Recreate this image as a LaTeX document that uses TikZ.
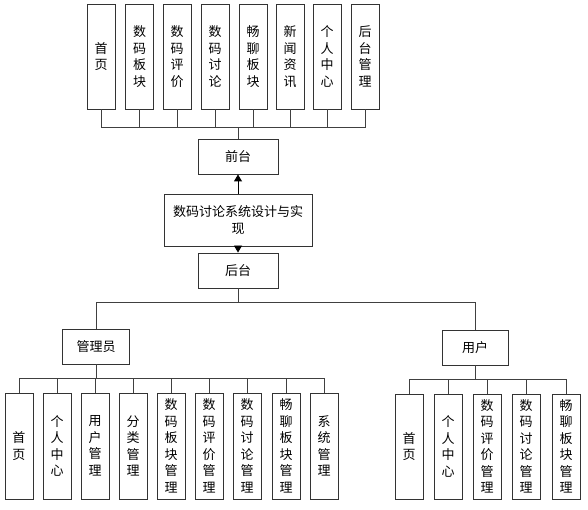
\documentclass[tikz,border=0pt]{standalone}
\usepackage{fontspec}
\setmainfont{Noto Sans CJK SC}
\usetikzlibrary{arrows.meta}
\begin{document}
\begin{tikzpicture}[x=1pt,y=-1pt,
  box/.style={draw=black!80, line width=0.9pt, fill=white, inner sep=0pt, align=center,
    font=\fontsize{13}{16.5}\selectfont},
  vbox/.style={box, minimum width=28pt, minimum height=105pt},
  hbox/.style={box, minimum height=35pt},
  conn/.style={draw=black!75, line width=0.9pt},
  arr/.style={conn, draw=black, -{Triangle[width=8pt,length=7pt]}}]
\useasboundingbox (0,0) rectangle (588,510);
% top row
\node[vbox] (t1) at (101,56.5) {首\\页};
\node[vbox] (t2) at (139.5,56.5) {数\\码\\板\\块};
\node[vbox] (t3) at (177,56.5) {数\\码\\评\\价};
\node[vbox] (t4) at (215,56.5) {数\\码\\讨\\论};
\node[vbox] (t5) at (253,56.5) {畅\\聊\\板\\块};
\node[vbox] (t6) at (290,56.5) {新\\闻\\资\\讯};
\node[vbox] (t7) at (327,56.5) {个\\人\\中\\心};
\node[vbox] (t8) at (365,56.5) {后\\台\\管\\理};
\coordinate (jt) at (237,127);
\node[hbox, minimum width=80pt] (qt) at (238,156.5) {前台};
\node[box, minimum width=148pt, minimum height=52pt] (main) at (238,220) {数码讨论系统设计与实\\现};
\node[hbox, minimum width=80pt] (ht) at (238,270.5) {后台};
\foreach \i in {1,...,8} {\draw[conn] (t\i.south) |- (jt);}
\draw[conn] (jt) -- (qt.north |- jt) -- (qt.north);
\draw[arr] (main.north -| qt.south) -- (qt.south);
\draw[arr] (main.south -| ht.north) -- (ht.north);
% second level
\node[hbox, minimum width=67pt] (gly) at (96,346.5) {管理员};
\node[hbox, minimum width=66pt] (yh) at (475,347.5) {用户};
\coordinate (jm) at (238,302);
\draw[conn] (ht.south) -- (jm);
\draw[conn] (jm) -| (gly.north);
\draw[conn] (jm) -| (yh.north);
% admin children
\node[vbox, minimum height=106pt] (a1) at (19,446) {首\\页};
\node[vbox, minimum height=106pt] (a2) at (57,446) {个\\人\\中\\心};
\node[vbox, minimum height=106pt] (a3) at (95,446) {用\\户\\管\\理};
\node[vbox, minimum height=106pt] (a4) at (133,446) {分\\类\\管\\理};
\node[vbox, minimum height=106pt] (a5) at (171,446) {数\\码\\板\\块\\管\\理};
\node[vbox, minimum height=106pt] (a6) at (209,446) {数\\码\\评\\价\\管\\理};
\node[vbox, minimum height=106pt] (a7) at (247,446) {数\\码\\讨\\论\\管\\理};
\node[vbox, minimum height=106pt] (a8) at (286,446) {畅\\聊\\板\\块\\管\\理};
\node[vbox, minimum height=106pt] (a9) at (324,446) {系\\统\\管\\理};
\coordinate (ja) at (96,378);
\draw[conn] (gly.south) -- (ja);
\foreach \i in {1,...,9} {\draw[conn] (a\i.north) |- (ja);}
% user children
\node[vbox, minimum height=105pt] (u1) at (409,446.5) {首\\页};
\node[vbox, minimum height=105pt] (u2) at (448,446.5) {个\\人\\中\\心};
\node[vbox, minimum height=105pt] (u3) at (487,446.5) {数\\码\\评\\价\\管\\理};
\node[vbox, minimum height=105pt] (u4) at (526,446.5) {数\\码\\讨\\论\\管\\理};
\node[vbox, minimum height=105pt] (u5) at (566,446.5) {畅\\聊\\板\\块\\管\\理};
\coordinate (ju) at (475,379);
\draw[conn] (yh.south) -- (ju);
\foreach \i in {1,...,5} {\draw[conn] (u\i.north) |- (ju);}
\end{tikzpicture}
\end{document}
